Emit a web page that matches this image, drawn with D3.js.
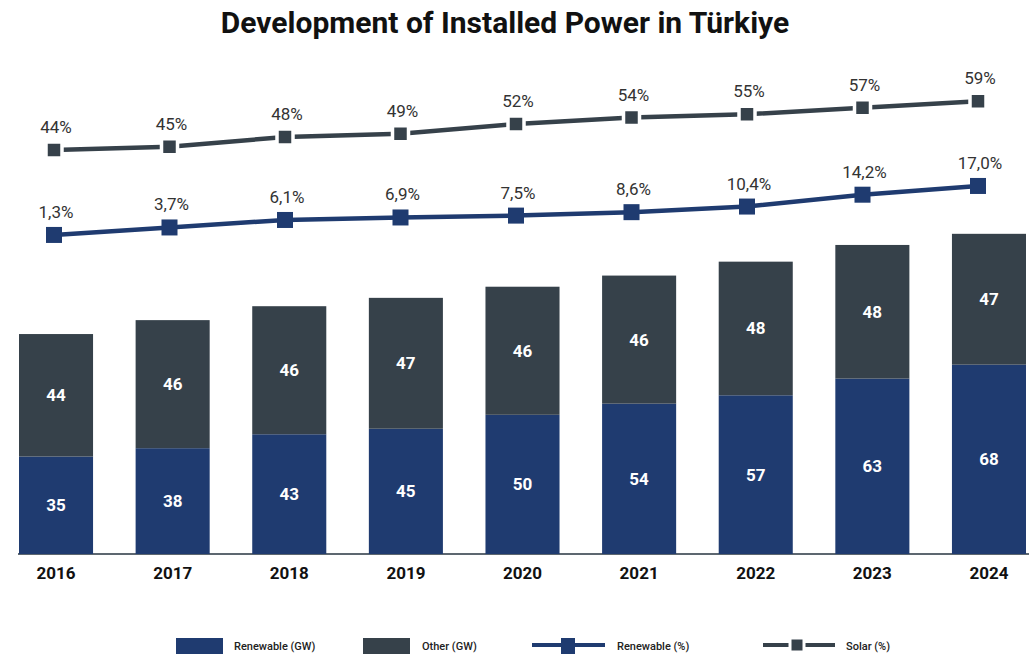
<!DOCTYPE html>
<html>
<head>
<meta charset="utf-8">
<script src="https://cdn.jsdelivr.net/npm/d3@7"></script>
<style>
  body { margin: 0; background: #fff; }
  svg { display: block; font-family: Roboto, "Noto Sans", sans-serif; }
</style>
</head>
<body>
<svg width="1029" height="654"></svg>
<script>
// data
const years = ['2016', '2017', '2018', '2019', '2020', '2021', '2022', '2023', '2024'];
const renewableGW = [35, 38, 43, 45, 50, 54, 57, 63, 68];
const otherGW = [44, 46, 46, 47, 46, 46, 48, 48, 47];
const renewablePct = [1.3, 3.7, 6.1, 6.9, 7.5, 8.6, 10.4, 14.2, 17.0];
const solarPct = [44, 45, 48, 49, 52, 54, 55, 57, 59];

const blue = '#1f3b70';
const dark = '#36414a';

const svg = d3.select('svg');
const width = +svg.attr('width');

const rows = years.map((y, i) => ({
    year: y,
    renewable: renewableGW[i],
    other: otherGW[i],
    rPct: renewablePct[i],
    sPct: solarPct[i]
}));

const stack = d3.stack().keys(['renewable', 'other'])(rows);

// scales
const xScale = d3.scaleBand()
    .domain(years)
    .range([19, 1026])
    .paddingInner(0.365)
    .paddingOuter(0);

const xLine = d3.scalePoint()
    .domain(years)
    .range([54, 978]);

const yScale = d3.scaleLinear()
    .domain([0, 190])
    .range([554, 25]);

const yRenPct = d3.scaleLinear()
    .domain([0, 20])
    .range([239, 176.6]);

const ySolPct = d3.scaleLinear()
    .domain([0, 60])
    .range([293, 98]);

const fmtPct = v => v.toFixed(1).replace('.', ',') + '%';

// title
svg.append('text')
    .attr('x', 505)
    .attr('y', 33)
    .attr('text-anchor', 'middle')
    .attr('font-size', 30)
    .attr('font-weight', 700)
    .attr('fill', '#111')
    .text('Development of Installed Power in Türkiye');

// baseline axis
const xAxis = d3.axisBottom(xScale).tickSize(0).tickPadding(13);
const axisG = svg.append('g')
    .attr('transform', `translate(0, ${yScale(0)})`)
    .call(xAxis);
axisG.select('.domain')
    .attr('d', `M18,0H${width}`)
    .attr('stroke', '#5d6770')
    .attr('stroke-width', 2);
axisG.selectAll('.tick text')
    .attr('font-size', 17)
    .attr('font-weight', 700)
    .attr('fill', '#111')
    .attr('font-family', 'Roboto, sans-serif');

// stacked bars
const colors = {renewable: blue, other: dark};
const layers = svg.append('g').selectAll('g.layer')
    .data(stack)
    .join('g')
    .attr('class', 'layer')
    .attr('fill', d => colors[d.key]);

layers.selectAll('rect')
    .data(d => d)
    .join('rect')
    .attr('x', d => xScale(d.data.year))
    .attr('y', d => yScale(d[1]))
    .attr('width', xScale.bandwidth())
    .attr('height', d => yScale(d[0]) - yScale(d[1]));

layers.selectAll('text')
    .data(d => d.map(s => ({s: s, key: d.key})))
    .join('text')
    .attr('x', d => xScale(d.s.data.year) + xScale.bandwidth() / 2)
    .attr('y', d => (yScale(d.s[0]) + yScale(d.s[1])) / 2 + 6)
    .attr('text-anchor', 'middle')
    .attr('font-size', 17)
    .attr('font-weight', 700)
    .attr('fill', '#fff')
    .text(d => d.s.data[d.key]);

// lines
function drawLine(accessor, scale, color, gap, fmt) {
    const g = svg.append('g');
    g.append('path')
        .datum(rows)
        .attr('fill', 'none')
        .attr('stroke', color)
        .attr('stroke-width', 4.5)
        .attr('d', d3.line().x(d => xLine(d.year)).y(d => scale(accessor(d))));
    g.selectAll('rect')
        .data(rows)
        .join('rect')
        .attr('x', d => xLine(d.year) - 8)
        .attr('y', d => scale(accessor(d)) - 8)
        .attr('width', 16)
        .attr('height', 16)
        .attr('fill', color)
        .attr('stroke', gap ? '#fff' : 'none')
        .attr('stroke-width', gap ? 3.5 : 0);
    g.selectAll('text')
        .data(rows)
        .join('text')
        .attr('x', d => xLine(d.year) + 2)
        .attr('y', d => scale(accessor(d)) - 17)
        .attr('text-anchor', 'middle')
        .attr('font-size', 17)
        .attr('fill', '#333')
        .text(d => fmt(accessor(d)));
}

drawLine(d => d.sPct, ySolPct, dark, true, v => v + '%');
drawLine(d => d.rPct, yRenPct, blue, false, fmtPct);

// legend
const legend = svg.append('g').attr('font-size', 11).attr('font-weight', 500).attr('fill', '#222');
legend.append('rect').attr('x', 176).attr('y', 638).attr('width', 47).attr('height', 16).attr('fill', blue);
legend.append('text').attr('x', 234).attr('y', 650).text('Renewable (GW)');
legend.append('rect').attr('x', 363).attr('y', 638).attr('width', 47).attr('height', 16).attr('fill', dark);
legend.append('text').attr('x', 422).attr('y', 650).text('Other (GW)');

legend.append('line').attr('x1', 532).attr('x2', 605).attr('y1', 645).attr('y2', 645)
    .attr('stroke', blue).attr('stroke-width', 4);
legend.append('rect').attr('x', 561).attr('y', 638).attr('width', 14).attr('height', 16).attr('fill', blue);
legend.append('text').attr('x', 617).attr('y', 650).text('Renewable (%)');

legend.append('line').attr('x1', 763).attr('x2', 835).attr('y1', 645).attr('y2', 645)
    .attr('stroke', dark).attr('stroke-width', 4);
legend.append('rect').attr('x', 790).attr('y', 638).attr('width', 14).attr('height', 14)
    .attr('fill', dark).attr('stroke', '#fff').attr('stroke-width', 3);
legend.append('text').attr('x', 846).attr('y', 650).text('Solar (%)');
</script>
</body>
</html>
